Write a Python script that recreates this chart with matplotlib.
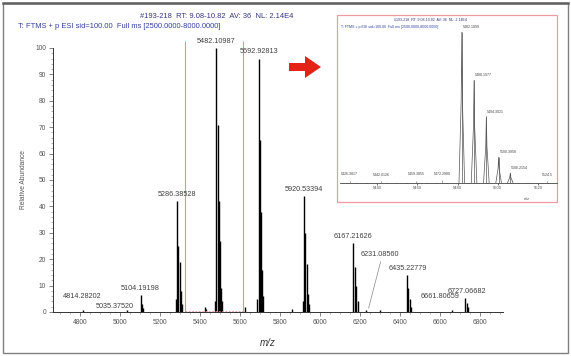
import numpy as np
import matplotlib.pyplot as plt
from matplotlib.ticker import MultipleLocator
from matplotlib.patches import Rectangle, Polygon

plt.rcParams['font.family'] = ['Liberation Sans', 'DejaVu Sans']

# full scan: centroid sticks (m/z, relative abundance)
spec_mz = [4814.28, 5035.38,
           5104.19, 5110.2, 5116.2,
           5280.4, 5286.39, 5292.4, 5298.4, 5304.4, 5310.4,
           5425.0, 5431.0,
           5476.1, 5482.11, 5488.1, 5494.1, 5500.1, 5506.1, 5512.1,
           5625.0,
           5686.9, 5692.93, 5699.0, 5705.0, 5711.0, 5717.0,
           5860.0,
           5914.5, 5920.53, 5927.0, 5933.0, 5939.0, 5945.0,
           6167.22, 6174.0, 6181.0, 6188.0,
           6231.09, 6300.0,
           6435.23, 6442.0, 6449.0, 6456.0,
           6661.81,
           6727.07, 6734.0, 6741.0]
spec_int = [0.8, 0.8,
            6.5, 3.0, 1.5,
            5.0, 42.0, 25.0, 19.0, 8.0, 3.0,
            2.0, 1.2,
            4.0, 100.0, 71.0, 42.0, 27.0, 9.0, 4.0,
            2.0,
            5.0, 96.0, 65.0, 38.0, 16.0, 6.0,
            1.0,
            4.0, 44.0, 30.0, 18.0, 7.0, 3.0,
            26.0, 17.0, 10.0, 4.0,
            0.8, 0.6,
            14.0, 9.0, 5.0, 2.0,
            0.8,
            5.3, 3.5, 2.0]

# annotated peaks: text, x and y of the label in data units
peak_text = ['4814.28202', '5035.37520', '5104.19198', '5286.38528',
             '5482.10987', '5692.92813', '5920.53394', '6167.21626',
             '6231.08560', '6435.22779', '6661.80659', '6727.06682']
peak_lx = [4812, 4972, 5102, 5286, 5482, 5693, 5921, 6167, 6300, 6440, 6600, 6736]
peak_ly = [5.7, 1.9, 9.0, 44.5, 102.5, 98.5, 46.5, 28.5, 21.6, 16.5, 5.7, 7.8]

# zoom window on the 27+ charge state
zoom_lo, zoom_hi = 5325, 5615

# inset: glycoform profile of the 27+ ion
ins_mz = [5482.11, 5488.2, 5494.3, 5500.4, 5506.2]
ins_int = [100.0, 68.0, 44.0, 17.0, 6.6]
ins_text = ['5482.1099', '5488.1977', '5494.3021', '5500.3958', '5506.2154']
ins_small_mz = [5426.4, 5442.0, 5459.4, 5472.3, 5524.5]
ins_small_int = [1.5, 1.2, 1.5, 1.8, 1.2]
ins_small_text = ['5426.3817', '5442.0126', '5459.3855', '5472.2980', '5524.5']

W, H = 571, 356


def box(x0, y0, x1, y1):
    return [x0 / W, 1 - y1 / H, (x1 - x0) / W, (y1 - y0) / H]


fig = plt.figure(figsize=(W / 100, H / 100), dpi=100)

# overlay in pixel units for frame, arrow and inset border
ov = fig.add_axes([0, 0, 1, 1])
ov.set_xlim(0, W)
ov.set_ylim(H, 0)
ov.axis('off')
ov.add_patch(Rectangle((3, 3), 565, 350, fill=False, ec='#808080', lw=1.0))
ov.plot([3, 568], [3, 3], color='#606060', lw=1.8)
ov.add_patch(Rectangle((337, 15), 220, 187, fill=False, ec='#f09aa2', lw=0.9))
arrow = [(289, 63), (305, 63), (305, 56), (321, 67), (305, 78), (305, 71), (289, 71)]
ov.add_patch(Polygon(arrow, closed=True, fc='#e42318', ec='none'))

# main spectrum
ax = fig.add_axes(box(53, 48, 503, 312))
ax.patch.set_visible(False)
ax.vlines(spec_mz, 0, spec_int, color='black', lw=1.0)
ax.set_xlim(4665, 6915)
ax.set_ylim(0, 100)
for s in ['top', 'right']:
    ax.spines[s].set_visible(False)
for s in ['left', 'bottom']:
    ax.spines[s].set_color('#333333')
    ax.spines[s].set_linewidth(0.7)
ax.xaxis.set_major_locator(MultipleLocator(200))
ax.xaxis.set_minor_locator(MultipleLocator(50))
ax.yaxis.set_major_locator(MultipleLocator(10))
ax.yaxis.set_minor_locator(MultipleLocator(2))
ax.tick_params(which='major', length=3, width=0.5, color='#555555',
               labelsize=4.8, labelcolor='#555555', pad=2)
ax.tick_params(which='minor', length=1.5, width=0.4, color='#777777')
ax.set_ylabel('Relative Abundance', fontsize=4.8, color='#555555', labelpad=6)

# zoom window lines
ax.vlines([zoom_lo, zoom_hi], 0, 102.5, color='#f08a96', lw=0.8, clip_on=False)
ax.hlines(0.4, zoom_lo, zoom_hi, color='#f08a96', lw=0.6, linestyles=(0, (2, 2)))

for t, lx, ly in zip(peak_text, peak_lx, peak_ly):
    ax.text(lx, ly, t, fontsize=5.2, color='#404040', ha='center', va='center',
            clip_on=False)
# leader for the small 6231 peak
ax.plot([6303, 6243], [19.0, 1.5], color='#888888', lw=0.5)

# scan header
fig.text(140 / W, 1 - 16 / H, '#193-218  RT: 9.08-10.82  AV: 36  NL: 2.14E4',
         fontsize=5.4, color='#353585', va='center')
fig.text(18 / W, 1 - 26 / H, 'T: FTMS + p ESI sid=100.00  Full ms [2500.0000-8000.0000]',
         fontsize=5.4, color='#3040a0', va='center')
fig.text(268 / W, 1 - 343 / H, 'm/z', fontsize=7, style='italic', color='#333333',
         ha='center', va='center')

# inset
ai = fig.add_axes(box(340, 32, 557, 183))
ai.patch.set_visible(False)
for m, h in zip(ins_mz, ins_int):
    ai.plot([m - 1.4, m - 0.3, m, m + 0.3, m + 1.4], [0, h * 0.55, h, h * 0.55, 0],
            color='#555555', lw=0.5)
    ai.vlines(m, 0, h, color='#555555', lw=0.5)
for m, h in zip(ins_small_mz, ins_small_int):
    ai.vlines(m, 0, h, color='#666666', lw=0.4)
ai.set_xlim(5421.6, 5529.4)
ai.set_ylim(0, 100)
for s in ['top', 'right', 'left']:
    ai.spines[s].set_visible(False)
ai.spines['bottom'].set_linewidth(0.6)
ai.spines['bottom'].set_color('#444444')
ai.set_yticks([])
ai.xaxis.set_major_locator(MultipleLocator(20))
ai.xaxis.set_minor_locator(MultipleLocator(5))
ai.tick_params(which='major', length=1.5, width=0.4, labelsize=3, labelcolor='#555555', pad=1)
ai.tick_params(which='minor', length=0.8, width=0.3)
for t, m, h in zip(ins_text, ins_mz, ins_int):
    ai.text(m + 0.5, h + 2, t, fontsize=2.6, color='#444444', va='bottom', ha='left')
for t, m, h in zip(ins_small_text, ins_small_mz, ins_small_int):
    ai.text(m, h + 3, t, fontsize=2.6, color='#444444', va='bottom', ha='center')
ai.text(0.86, -0.11, 'm/z', transform=ai.transAxes, fontsize=2.6, color='#444444',
        ha='center')
fig.text(430 / W, 1 - 20 / H, '#193-218  RT: 9.08-10.82  AV: 36  NL: 2.14E4',
         fontsize=2.6, color='#353585', ha='center', va='center')
fig.text(341 / W, 1 - 27 / H, 'T: FTMS + p ESI sid=100.00  Full ms [2500.0000-8000.0000]',
         fontsize=2.6, color='#3040a0', va='center')

fig.savefig('out.png', dpi=100)
